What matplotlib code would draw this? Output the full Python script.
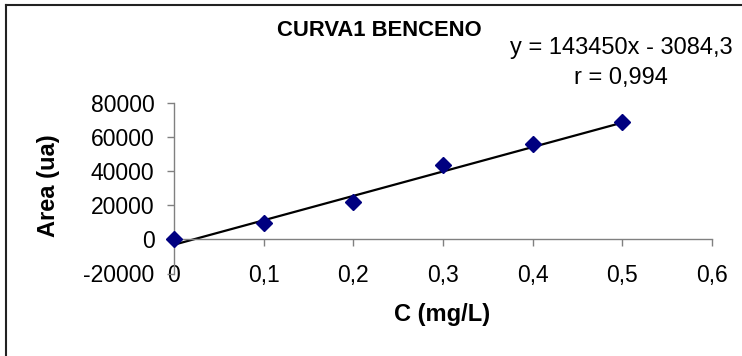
import matplotlib.pyplot as plt
from matplotlib.lines import Line2D

plt.rcParams['font.family'] = ['Liberation Sans', 'DejaVu Sans']

# datos de la curva de calibracion
conc = [0.0, 0.1, 0.2, 0.3, 0.4, 0.5]
area = [500, 9800, 22100, 43700, 56000, 69200]

# recta de tendencia (coeficientes del grafico)
slope = 143450
intercept = -3084.3
r_val = "0,994"

x_ticks = [0, 0.1, 0.2, 0.3, 0.4, 0.5, 0.6]
x_labels = ["0", "0,1", "0,2", "0,3", "0,4", "0,5", "0,6"]
y_ticks = [-20000, 0, 20000, 40000, 60000, 80000]
y_labels = ["-20000", "0", "20000", "40000", "60000", "80000"]

W, H = 742, 356
fig = plt.figure(figsize=(W / 100, H / 100), dpi=100)
ax = fig.add_axes([174 / W, 1 - 273.5 / H, 538 / W, 170.2 / H])

# linea de tendencia
xs = [conc[0], conc[-1]]
ax.plot(xs, [slope * v + intercept for v in xs], color="black", lw=1.6, zorder=2)
ax.plot(conc, area, linestyle="none", marker="D", ms=8, color="#000080",
        markeredgecolor="#000080", zorder=3, clip_on=False)

ax.set_xlim(0, 0.6)
ax.set_ylim(-20000, 80000)
ax.set_xticks(x_ticks)
ax.set_xticklabels(x_labels)
ax.set_yticks(y_ticks)
ax.set_yticklabels(y_labels)

for s in ["top", "right"]:
    ax.spines[s].set_visible(False)
ax.spines["bottom"].set_position(("data", 0))
for s in ["left", "bottom"]:
    ax.spines[s].set_color("#808080")
    ax.spines[s].set_linewidth(1)

ax.tick_params(axis="both", direction="out", length=5, width=1, color="#808080",
               labelsize=16.5)
ax.tick_params(axis="x", pad=13)
ax.tick_params(axis="y", pad=9)

fig.text(379 / W, 1 - 30 / H, "CURVA1 BENCENO", ha="center", va="center",
         fontsize=15.8, fontweight="bold")
fig.text(621 / W, 1 - 48 / H, f"y = {slope}x - 3084,3", ha="center", va="center",
         fontsize=17)
fig.text(621 / W, 1 - 78 / H, f"r = {r_val}", ha="center", va="center", fontsize=17)

fig.text(442 / W, 1 - 315 / H, "C (mg/L)", ha="center", va="center",
         fontsize=17, fontweight="bold")
fig.text(49 / W, 1 - 186 / H, "Area (ua)", ha="center", va="center",
         fontsize=17, fontweight="bold", rotation=90)

# marco del grafico (solo izquierda y arriba visibles)
fig.add_artist(Line2D([5.5 / W, 5.5 / W], [0, 1 - 4.5 / H], color="#222222", lw=1.5))
fig.add_artist(Line2D([5.5 / W, 1], [1 - 4.5 / H, 1 - 4.5 / H], color="#222222", lw=1.5))

fig.savefig("out.png", dpi=100)
